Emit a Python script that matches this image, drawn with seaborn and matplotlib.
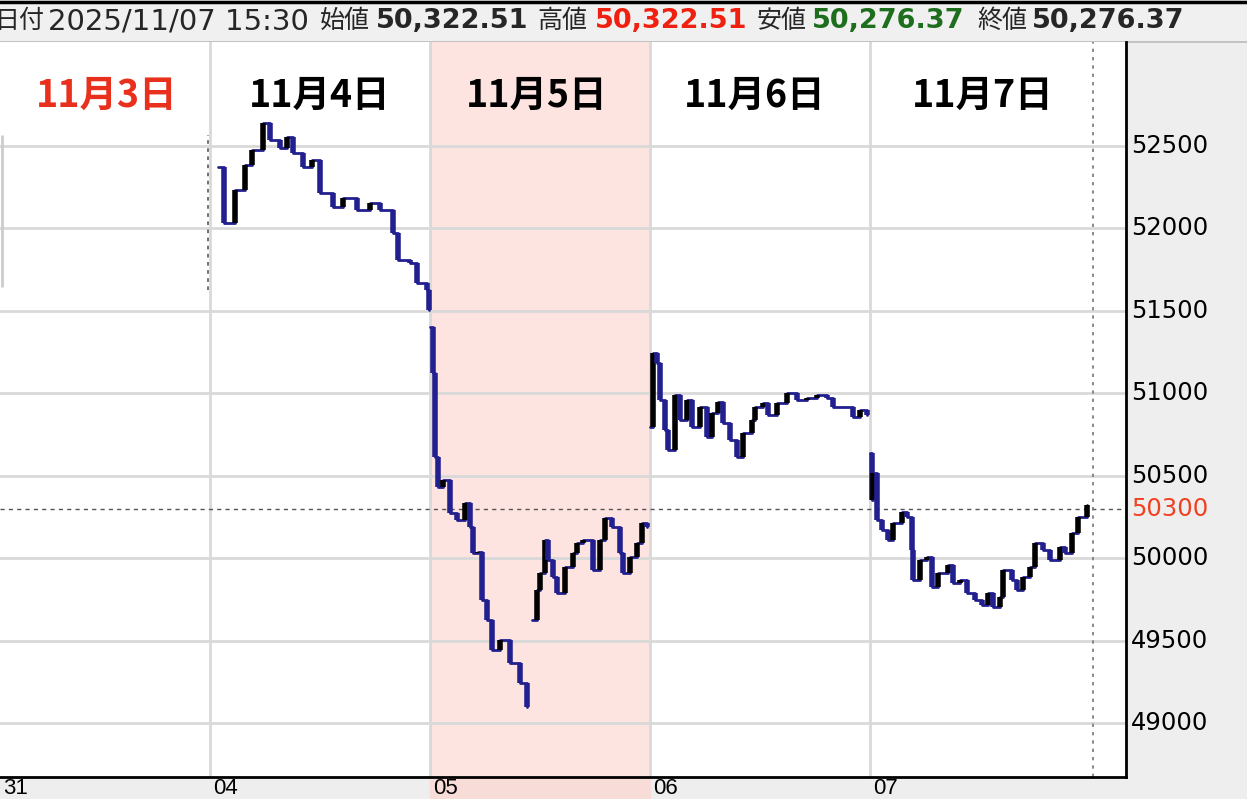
import numpy as np
import pandas as pd
import matplotlib.pyplot as plt
import matplotlib.transforms as mtrans
from matplotlib.patches import Rectangle
import seaborn as sns

sns.set_style("white")
plt.rcParams['font.family'] = ['Noto Sans CJK JP', 'DejaVu Sans']

# time axis: 0 = start of 11/4, 1 = start of 11/5, ...
d4_t = [0.036, 0.064, 0.114, 0.159, 0.191, 0.241, 0.273, 0.318, 0.350, 0.377, 0.423, 0.464,
        0.500, 0.559, 0.605, 0.668, 0.727, 0.773, 0.832, 0.855, 0.909, 0.941, 0.986, 0.995]
d4_p = [52373, 52033, 52233, 52385, 52476, 52640, 52536, 52488, 52555, 52458, 52373, 52415,
        52215, 52130, 52185, 52112, 52154, 52112, 51972, 51808, 51790, 51669, 51627, 51505]

d5am_t = [1.000, 1.014, 1.023, 1.036, 1.059, 1.091, 1.123, 1.159, 1.182, 1.195, 1.218, 1.236,
          1.259, 1.282, 1.318, 1.364, 1.409, 1.441]
d5am_p = [51402, 51123, 50614, 50432, 50474, 50274, 50231, 50335, 50189, 50031, 50037, 49746,
          49625, 49443, 49504, 49364, 49243, 49097]

d5pm_t = [1.464, 1.486, 1.500, 1.523, 1.536, 1.559, 1.577, 1.614, 1.650, 1.668, 1.695, 1.741,
          1.773, 1.795, 1.827, 1.864, 1.877, 1.909, 1.941, 1.964, 1.986]
d5pm_p = [49625, 49807, 49910, 50110, 49989, 49886, 49789, 49946, 50031, 50092, 50110, 49928,
          50110, 50244, 50189, 50031, 49910, 50007, 50092, 50213, 50189]

d6_t = [2.000, 2.014, 2.032, 2.045, 2.068, 2.082, 2.114, 2.136, 2.168, 2.191, 2.227, 2.259,
        2.282, 2.309, 2.332, 2.364, 2.395, 2.423, 2.464, 2.477, 2.514, 2.536, 2.577, 2.623,
        2.668, 2.714, 2.759, 2.805, 2.832, 2.877, 2.923, 2.955, 2.986]
d6_p = [50796, 51244, 51184, 50959, 50777, 50656, 50990, 50838, 50959, 50796, 50917, 50735,
        50881, 50947, 50820, 50717, 50614, 50759, 50838, 50917, 50941, 50868, 50941, 51002,
        50959, 50971, 50990, 50971, 50917, 50917, 50856, 50899, 50868]

d7_t = [3.000, 3.009, 3.014, 3.032, 3.055, 3.082, 3.105, 3.145, 3.168, 3.191, 3.195, 3.227,
        3.259, 3.282, 3.309, 3.355, 3.377, 3.409, 3.441, 3.477, 3.509, 3.536, 3.559, 3.591,
        3.605, 3.645, 3.668, 3.695, 3.727, 3.750, 3.786, 3.818, 3.864, 3.886, 3.918, 3.945, 3.986]
d7_p = [50638, 50353, 50517, 50231, 50171, 50110, 50213, 50280, 50250, 50049, 49868, 49989,
        50007, 49825, 49910, 49958, 49849, 49868, 49789, 49746, 49716, 49789, 49704, 49764,
        49928, 49868, 49807, 49886, 49946, 50092, 50049, 49989, 50068, 50031, 50153, 50250, 50322]

segments = [(d4_t, d4_p), (d5am_t, d5am_p), (d5pm_t, d5pm_p), (d6_t, d6_p), (d7_t, d7_p)]

y_ticks = [49000, 49500, 50000, 50500, 51000, 51500, 52000, 52500]
last_price = 50300
day_labels = ["11月3日", "11月4日", "11月5日", "11月6日", "11月7日"]
day_label_t = [-0.468, 0.5, 1.486, 2.477, 3.514]
x_tick_labels = ["31", "04", "05", "06", "07"]
x_tick_t = [-0.955, 0, 1, 2, 3]

navy = "#22208f"

W, H = 1247, 799
fig = plt.figure(figsize=(W / 100, H / 100), dpi=100)
fig.patch.set_facecolor("white")

def fx(px):
    return px / W

def fy(py):
    return 1 - py / H

# panels (behind the axes)
for xy, w, h, c in [((0, fy(42)), 1, 42 / H, "#f0f0f0"),
                    ((fx(1126), fy(777)), 121 / W, 735 / H, "#eeeeee"),
                    ((0, 0), 1, 22 / H, "#eeeeee"),
                    ((fx(430), 0), 220 / W, 22 / H, "#f8dcd8")]:
    fig.patches.append(Rectangle(xy, w, h, transform=fig.transFigure, color=c, zorder=-5))
fig.lines.append(plt.Line2D([0, 1], [fy(1.5), fy(1.5)], transform=fig.transFigure,
                            color="black", lw=2.5, zorder=-4))
fig.lines.append(plt.Line2D([0, 1], [fy(42), fy(42)], transform=fig.transFigure,
                            color="#bbbbbb", lw=1.2, zorder=-4))

ax = fig.add_axes([0, fy(777), 1126 / W, 735 / H])
ax.set_xlim(-0.9545, 4.1636)
ax.set_ylim(48672, 53131)
ax.set_xticks([])
ax.set_yticks([])
for s in ["top", "left"]:
    ax.spines[s].set_visible(False)
for s in ["right", "bottom"]:
    ax.spines[s].set_color("black")
    ax.spines[s].set_linewidth(2)

ax.axvspan(1, 2, color="#fde4e1", zorder=0)
for v in y_ticks:
    ax.axhline(v, color="#d9d9d9", lw=2, zorder=1)
for t in [0, 1, 2, 3]:
    ax.axvline(t, color="#d9d9d9", lw=2, zorder=1)

# leftover marks from the previous session
ax.vlines(-0.945, 51645, 52567, color="#cccccc", lw=2, zorder=2)
ax.vlines(-0.009, 51627, 52567, color="#666666", lw=1.3, linestyles=(0, (2, 2.5)), zorder=2)

ax.axhline(last_price, color="#555555", lw=1, ls=(0, (3, 3)), zorder=2)
ax.axvline(4.014, color="#777777", lw=1.2, ls=(0, (2, 3)), zorder=2)

for t, p in segments:
    df = pd.DataFrame({"t": t, "p": p})
    sns.lineplot(data=df, x="t", y="p", ax=ax, color=navy, lw=2,
                 drawstyle="steps-post", zorder=3)
    diff = np.diff(df["p"].values)
    cols = np.where(diff > 0, "black", navy)
    ax.vlines(df["t"].values[1:], df["p"].values[:-1], df["p"].values[1:],
              colors=cols, lw=4, zorder=4)
ax.set_xlabel("")
ax.set_ylabel("")

# day labels
dtr = mtrans.blended_transform_factory(ax.transData, ax.transAxes)
for i, (lab, t) in enumerate(zip(day_labels, day_label_t)):
    ax.text(t, 0.928, lab, transform=dtr, ha="center", va="center", fontsize=27,
            fontweight="bold", color="#e8301c" if i == 0 else "black")

# right price labels
ytr = mtrans.blended_transform_factory(ax.transAxes, ax.transData)
for v in y_ticks:
    ax.text(1 + 5 / 1126, v, str(v), transform=ytr, ha="left", va="center",
            fontsize=17.5, family="DejaVu Sans", color="black", clip_on=False)
ax.text(1 + 5 / 1126, last_price, str(last_price), transform=ytr, ha="left", va="center",
        fontsize=17.5, family="DejaVu Sans", color="#f04020", clip_on=False)

# bottom date labels
for lab, t in zip(x_tick_labels, x_tick_t):
    ax.text(t + 3 / 220, -12 / 735, lab, transform=dtr, ha="left", va="center",
            fontsize=16, family=["Liberation Sans", "DejaVu Sans"], color="black",
            clip_on=False)

# header
hy = fy(21)
fig.text(fx(-5), hy, "日付", fontsize=18, va="center")
fig.text(fx(48), hy, "2025/11/07 15:30", fontsize=21, va="center", family="DejaVu Sans")
fig.text(fx(320), hy, "始値", fontsize=18, va="center")
fig.text(fx(376), hy, "50,322.51", fontsize=19.5, va="center", family="DejaVu Sans",
         fontweight="bold")
fig.text(fx(537), hy, "高値", fontsize=18, va="center")
fig.text(fx(595), hy, "50,322.51", fontsize=19.5, va="center", family="DejaVu Sans",
         fontweight="bold", color="#f02010")
fig.text(fx(757), hy, "安値", fontsize=18, va="center")
fig.text(fx(812), hy, "50,276.37", fontsize=19.5, va="center", family="DejaVu Sans",
         fontweight="bold", color="#1d6e1d")
fig.text(fx(977), hy, "終値", fontsize=18, va="center")
fig.text(fx(1032), hy, "50,276.37", fontsize=19.5, va="center", family="DejaVu Sans",
         fontweight="bold")

fig.savefig("out.png", dpi=100)
